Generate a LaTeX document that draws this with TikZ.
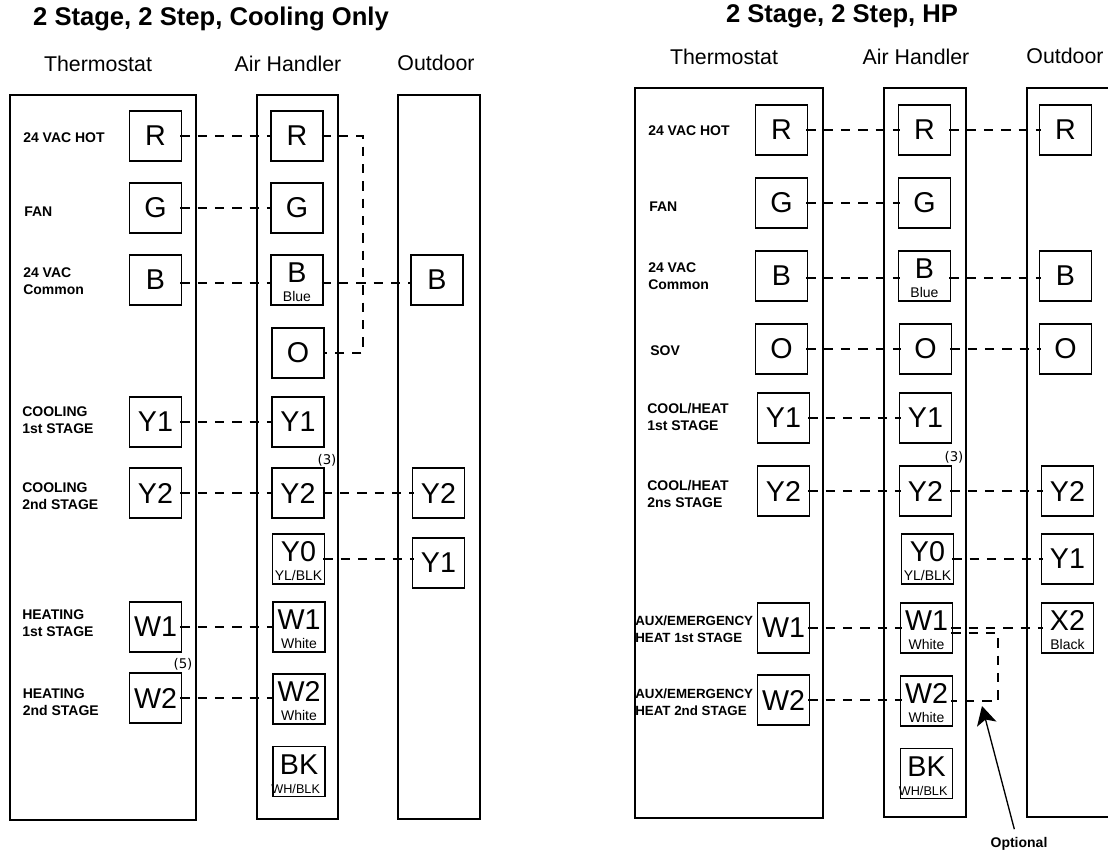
\documentclass[tikz,border=0pt]{standalone}
\usepackage{fontspec}
\setmainfont{Liberation Sans}
\newfontfamily\notefont{DejaVu Sans}
\usetikzlibrary{arrows.meta}
\newcommand{\subtxt}[1]{{\fontsize{10.5}{11}\selectfont #1}}
\newcommand{\subbk}{\makebox[30pt]{\fontsize{9.5}{11}\selectfont WH/BLK\hspace{5pt}}}
\newcommand{\toptxt}[1]{\rule{0pt}{18.4pt}#1\\[-0.6pt]}
\tikzset{
  frame/.style={draw=black,line width=1.2pt},
  terminal/.style={draw=black,line width=1pt,minimum width=39pt,minimum height=37.5pt,inner sep=0pt,
    align=center,font=\fontsize{21.5}{15}\selectfont},
  wire/.style={line width=1.35pt,dash pattern=on 7pt off 6pt,shorten <=-1.5pt,shorten >=-1.5pt},
  func/.style={anchor=west,align=left,inner sep=0pt,font=\fontsize{10.5}{12.75}\selectfont\bfseries},
  auxfunc/.style={func,font=\fontsize{10}{12.75}\selectfont\bfseries},
  header/.style={inner sep=0pt,font=\fontsize{16}{18}\selectfont},
  title/.style={inner sep=0pt,font=\fontsize{19.2}{21}\selectfont\bfseries},
  note/.style={inner sep=0pt,font=\fontsize{10}{11}\selectfont\notefont},
}
\begin{document}
\begin{tikzpicture}[x=0.75pt,y=-0.75pt]
    \clip (0,0) rectangle (1108,854);

    \node[title] (ltitle) at (211,19) {2 Stage, 2 Step, Cooling Only};
    \node[header] (lthead) at (98,64) {Thermostat};
    \node[header] (lahead) at (288,64) {Air Handler};
    \node[header] (lohead) at (436,63) {Outdoor};
    \draw[frame] (10,95) rectangle (196,820);
    \draw[frame] (257,95) rectangle (338,819);
    \draw[frame] (398,95) rectangle (480,819);

    \foreach \n/\y in {R/136,G/208,B/280,Y1/422,Y2/493,W1/627,W2/698} {
      \node[terminal] (lt\n) at (155.5,\y) {\n};
    }
    \foreach \n/\x/\y in {R/297/136,G/297/208,O/298/353,Y1/298/422,Y2/298/493} {
      \node[terminal] (la\n) at (\x,\y) {\n};
    }
    \foreach \n/\x/\y/\s in {B/297/280/Blue,Y0/298.5/559/YL\slash BLK,W1/299/627/White,W2/299/699/White} {
      \node[terminal] (la\n) at (\x,\y) {\toptxt{\n}\subtxt{\s}};
    }
    \node[terminal] (laBK) at (299,771.5) {\toptxt{BK}\subbk};
    \node[terminal] (loB) at (437,280) {B};
    \node[terminal] (loY2) at (438.5,493) {Y2};
    \node[terminal] (loY1) at (438.5,563) {Y1};

    \node[func] (lfR) at (23,138) {24 VAC HOT};
    \node[func] (lfG) at (24,212) {FAN};
    \node[func] (lfB) at (23,281) {24 VAC\\Common};
    \node[func] (lfY1) at (22,420.5) {COOLING\\1st STAGE};
    \node[func] (lfY2) at (22,496.5) {COOLING\\2nd STAGE};
    \node[func] (lfW1) at (22,623.5) {HEATING\\1st STAGE};
    \node[func] (lfW2) at (22.5,702) {HEATING\\2nd STAGE};
    \node[note] (ln3) at (327,460) {(3)};
    \node[note] (ln5) at (183,664) {(5)};

    \foreach \n in {R,G,Y1,Y2,W1} {
      \draw[wire] (lt\n.east) -- (la\n.west);
    }
    \draw[wire] (ltW2.east) -- ([yshift=0.75pt]laW2.west);
    \draw[wire] ([yshift=-2.25pt]ltB.east) -- ([yshift=-2.25pt]laB.west);
    \draw[wire] ([yshift=-2.25pt]laB.east) -- ([yshift=-2.25pt]loB.west);
    \draw[wire] (laY2.east) -- (loY2.west);
    \draw[wire] (laY0.east) -- ([yshift=3pt]loY1.west);
    \coordinate (lbend) at (363,245);
    \draw[wire] (laR.east) -| (lbend) |- (laO.east);

    \node[title] (rtitle) at (842,16) {2 Stage, 2 Step, HP};
    \node[header] (rthead) at (724,57) {Thermostat};
    \node[header] (rahead) at (916,57) {Air Handler};
    \node[header] (rohead) at (1065,56) {Outdoor};
    \draw[frame] (635,88) rectangle (823,818);
    \draw[frame] (884,88) rectangle (966,817);
    \draw[frame] (1027,88) rectangle (1130,817);

    \foreach \n/\x/\y in {R/781.5/130,G/781.5/203,B/781.5/276,O/781.5/349,Y1/783.5/418,
        Y2/783.5/491,W1/783.5/628,W2/783.5/700} {
      \node[terminal] (rt\n) at (\x,\y) {\n};
    }
    \foreach \n/\x/\y in {R/924.5/130,G/924.5/203,O/925.5/349,Y1/925.5/418,Y2/925.5/491} {
      \node[terminal] (ra\n) at (\x,\y) {\n};
    }
    \foreach \n/\x/\y/\s in {B/924.5/276/Blue,Y0/927.5/559/YL\slash BLK,W1/926.5/628/White,
        W2/926.5/701/White} {
      \node[terminal] (ra\n) at (\x,\y) {\toptxt{\n}\subtxt{\s}};
    }
    \node[terminal] (raBK) at (926.5,773.5) {\toptxt{BK}\subbk};
    \foreach \n/\x/\y in {R/1065.5/130,B/1065.5/276,O/1065.5/349,Y2/1067.5/491,Y1/1067.5/559} {
      \node[terminal] (ro\n) at (\x,\y) {\n};
    }
    \node[terminal] (roX2) at (1067.5,628) {\toptxt{X2}\subtxt{Black}};

    \node[func] (rfR) at (648,131) {24 VAC HOT};
    \node[func] (rfG) at (649,207) {FAN};
    \node[func] (rfB) at (648,276) {24 VAC\\Common};
    \node[func] (rfO) at (650,351) {SOV};
    \node[func] (rfY1) at (647,417) {COOL/HEAT\\1st STAGE};
    \node[func] (rfY2) at (647,493.5) {COOL/HEAT\\2ns STAGE};
    \node[auxfunc] (rfW1) at (635,629.5) {AUX/EMERGENCY\\HEAT 1st STAGE};
    \node[auxfunc] (rfW2) at (635,702) {AUX/EMERGENCY\\HEAT 2nd STAGE};
    \node[note] (rn3) at (954,457) {(3)};
    \node[func,anchor=center] (ropt) at (1019,844) {Optional};

    \foreach \n in {R,G,O,Y1,Y2,W1} {
      \draw[wire] (rt\n.east) -- (ra\n.west);
    }
    \draw[wire] (rtW2.east) -- ([yshift=0.75pt]raW2.west);
    \draw[wire] ([yshift=-1.5pt]rtB.east) -- ([yshift=-1.5pt]raB.west);
    \draw[wire] ([yshift=-1.5pt]raB.east) -- ([yshift=-1.5pt]roB.west);
    \foreach \a/\b in {R/R,O/O,Y2/Y2,Y0/Y1,W1/X2} {
      \draw[wire] (ra\a.east) -- (ro\b.west);
    }
    \coordinate (rbend) at (998,665);
    \draw[wire] ([yshift=-3.75pt]raW1.east) -| (rbend) |- (raW2.east);
    \coordinate (rtip) at (982,706);
    \draw[line width=1pt,-{Stealth[length=14pt,width=15pt,inset=3.5pt]}] ([xshift=-3.5pt,yshift=6pt]ropt.north) -- (rtip);
\end{tikzpicture}
\end{document}
